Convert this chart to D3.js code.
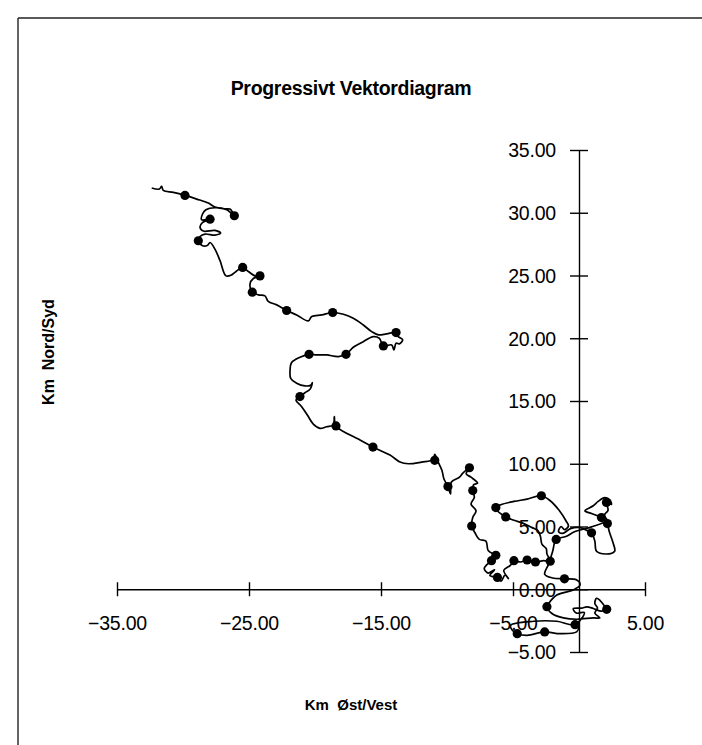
<!DOCTYPE html>
<html>
<head>
<meta charset="utf-8">
<script src="https://cdn.jsdelivr.net/npm/d3@7"></script>
<style>
  html, body { margin: 0; padding: 0; background: #fff; }
  svg { display: block; }
</style>
</head>
<body>
<svg id="chart" width="702" height="745"></svg>
<script>
// ---- data (km) ----
const titleText = "Progressivt Vektordiagram";
const xTitle = "Km  Øst/Vest";
const yTitle = "Km  Nord/Syd";
const xTicks = [-35, -25, -15, -5, 5];
const yTicks = [-5, 0, 5, 10, 15, 20, 25, 30, 35];

const pathX = [
 -32.37,-31.79,-31.62,-31.49,-30.73,-29.85,-28.96,-28.08,-27.58,-26.82,-26.44,-26.24,-26.11,-26.69,-27.58,-28.26,-28.51,-28.59,-27.95,-28.51,
 -28.71,-28.46,-27.58,-27.15,-27.58,-28.33,-28.71,-28.84,-28.51,-28.13,-27.95,-27.58,-27.20,-26.74,-26.31,-25.98,-25.48,-25.05,-24.55,-24.17,
 -24.67,-24.92,-24.75,-24.29,-23.79,-23.54,-22.90,-22.15,-21.39,-20.51,-20.25,-19.49,-18.66,-17.85,-17.10,-16.34,-15.71,-15.20,-14.57,-13.86,
 -13.69,-13.36,-13.61,-13.86,-14.02,-14.19,-14.82,-15.13,-15.58,-16.34,-17.10,-17.65,-18.23,-19.12,-19.87,-20.45,-21.14,-21.77,-21.89,-21.84,
 -21.39,-20.76,-20.30,-20.20,-20.38,-20.76,-21.14,-21.44,-21.01,-20.58,-20.13,-19.62,-19.12,-18.61,-18.54,-18.41,-16.59,-15.61,-14.32,-13.56,
 -12.93,-11.93,-11.05,-10.93,-10.63,-10.38,-10.23,-9.93,-9.73,-9.68,-9.05,-8.80,-8.30,-8.55,-8.18,-7.68,-7.98,-8.05,-7.93,-8.18,
 -7.80,-8.05,-8.13,-7.88,-7.55,-7.05,-6.88,-6.48,-6.30,-6.63,-6.98,-7.18,-6.88,-6.40,-6.75,-6.18,-5.90,-5.60,-5.35,-5.70,
 -5.20,-4.93,-4.43,-3.93,-3.30,-2.68,-2.18,-2.43,-2.48,-2.80,-2.93,-3.13,-3.55,-4.18,-4.93,-5.55,-6.18,-6.30,-5.93,-4.93,
 -3.93,-2.85,-2.18,-1.48,-0.98,-0.80,-1.10,-1.35,-1.55,-1.25,-0.60,0.08,0.58,0.95,1.20,1.33,2.08,2.70,2.58,2.28,
 2.15,1.70,0.95,0.45,1.08,1.45,1.95,2.35,2.45,2.08,2.20,1.90,2.10,0.90,-0.30,-1.00,-1.73,-2.00,-2.30,-2.60,
 -2.00,-1.10,-0.20,0.08,-0.43,-1.68,-2.30,-2.43,-2.05,-1.18,-0.18,1.08,1.58,1.20,1.40,1.20,1.33,1.60,1.90,2.10,
 1.70,1.08,0.60,0.20,-0.43,-0.20,0.40,-0.30,-1.68,-3.43,-5.18,-5.05,-4.68,-3.93,-2.60,-1.43,-0.18,0.00
];
const pathY = [
 31.97,31.89,32.10,31.78,31.62,31.38,31.09,30.77,30.45,30.32,30.29,30.03,29.76,30.24,30.40,30.24,29.92,29.44,29.49,29.23,
 28.86,28.54,28.59,28.38,28.22,28.30,28.11,27.77,27.37,27.42,27.63,27.10,26.20,24.97,25.05,25.32,25.64,25.32,24.97,24.97,
 24.76,24.34,23.67,23.46,23.38,22.93,22.66,22.21,21.86,21.38,21.73,21.86,22.05,21.91,21.60,21.06,20.53,20.27,20.35,20.45,
 20.13,19.87,19.55,19.60,19.07,19.47,19.39,20.00,20.13,19.73,19.28,18.72,18.54,18.67,18.67,18.72,18.48,18.06,17.42,16.81,
 16.41,16.20,16.28,16.46,15.93,15.66,15.35,15.08,14.55,13.88,13.16,12.82,12.95,13.09,13.75,13.01,11.89,11.33,10.69,10.14,
 10.00,10.13,10.32,10.75,10.05,9.46,8.79,8.18,7.59,8.53,8.93,9.25,9.68,9.20,8.93,8.45,8.34,7.86,7.32,6.78,
 6.25,5.71,5.04,4.50,3.97,3.83,3.08,2.81,2.71,2.28,1.96,1.64,1.29,1.55,1.10,0.94,0.65,1.15,0.85,1.50,
 1.90,2.28,2.17,2.33,2.17,2.28,2.23,2.82,3.24,3.57,4.24,4.69,4.91,5.23,5.50,5.76,6.25,6.51,6.73,7.00,
 7.18,7.45,7.05,6.25,5.44,5.04,4.75,5.00,4.60,4.45,4.85,4.91,4.69,4.50,3.83,3.03,2.81,3.03,3.70,4.64,
 5.23,5.71,6.03,6.25,6.65,7.00,7.30,7.10,6.75,6.92,6.30,5.90,5.50,4.95,4.60,4.20,3.97,3.00,2.00,1.20,
 0.90,0.83,0.75,0.35,-0.05,-0.46,-1.13,-1.39,-1.93,-2.28,-2.39,-2.28,-2.28,-1.90,-1.50,-1.13,-0.72,-0.90,-1.30,-1.60,
 -1.75,-1.53,-1.40,-1.50,-1.55,-1.90,-1.85,-2.82,-2.55,-2.55,-2.87,-3.27,-3.54,-3.67,-3.40,-3.54,-3.40,-3.00
];

const dotX = [-29.85,-26.11,-27.95,-28.84,-25.48,-24.17,-24.75,-22.15,-18.66,-13.86,-14.82,-17.65,-20.45,-21.14,-18.41,-15.61,-10.93,
  -9.93,-8.30,-8.05,-8.13,-6.30,-6.63,-6.18,-4.93,-3.93,-3.30,-2.18,-5.55,-6.30,-2.85,0.95,2.15,1.70,2.08,-1.73,-1.10,-2.43,2.10,-0.30,-4.68,-2.60];
const dotY = [31.38,29.76,29.49,27.77,25.64,24.97,23.67,22.21,22.05,20.45,19.39,18.72,18.72,15.35,13.01,11.33,10.27,
  8.18,9.68,7.86,5.04,2.71,2.28,0.94,2.28,2.33,2.17,2.23,5.76,6.51,7.45,4.50,5.23,5.71,6.92,3.97,0.83,-1.39,-1.60,-2.82,-3.54,-3.40];

// ---- drawing ----
const svg = d3.select("#chart");
const font = "'Liberation Sans', Arial, sans-serif";

// scanned frame (top and left edges)
svg.append("line").attr("x1", 18).attr("y1", 18).attr("x2", 702).attr("y2", 18)
  .attr("stroke", "#222").attr("stroke-width", 1.4);
svg.append("line").attr("x1", 18).attr("y1", 18).attr("x2", 18).attr("y2", 745)
  .attr("stroke", "#222").attr("stroke-width", 1.4);

const x = d3.scaleLinear().domain([-35, 5]).range([117, 645]);
const y = d3.scaleLinear().domain([-5, 35]).range([652, 150]);

const fmt = d3.format(".2f");

// x axis through y=0
const gx = svg.append("g").attr("transform", `translate(0,${y(0)})`)
  .call(d3.axisBottom(x).tickValues(xTicks).tickFormat(fmt).tickSizeOuter(0));
gx.select(".domain").attr("stroke", "#000").attr("stroke-width", 1.4);
gx.selectAll(".tick line").attr("y1", -7).attr("y2", 7).attr("stroke", "#000").attr("stroke-width", 1.4);
gx.selectAll(".tick text").attr("y", 41).attr("dy", 0)
  .attr("font-family", font).attr("font-size", 19.5).attr("letter-spacing", -0.2).attr("fill", "#000");

// y axis through x=0
const gy = svg.append("g").attr("transform", `translate(${x(0)},0)`)
  .call(d3.axisLeft(y).tickValues(yTicks).tickFormat(fmt).tickSizeOuter(0));
gy.select(".domain").attr("stroke", "#000").attr("stroke-width", 1.4);
gy.selectAll(".tick line").attr("x1", -9).attr("x2", 9).attr("stroke", "#000").attr("stroke-width", 1.4);
gy.selectAll(".tick text").attr("x", -23).attr("dy", "0.35em")
  .attr("font-family", font).attr("font-size", 19.5).attr("letter-spacing", -0.2).attr("fill", "#000");

// trajectory
const pts = pathX.map((v, i) => [v, pathY[i]]);
const line = d3.line().x(d => x(d[0])).y(d => y(d[1])).curve(d3.curveCatmullRom.alpha(0.5));
svg.append("path").datum(pts).attr("d", line)
  .attr("fill", "none").attr("stroke", "#000").attr("stroke-width", 1.7).attr("stroke-linejoin", "round");

// daily markers
svg.append("g").selectAll("circle").data(dotX.map((v, i) => [v, dotY[i]])).join("circle")
  .attr("cx", d => x(d[0])).attr("cy", d => y(d[1])).attr("r", 4.6).attr("fill", "#000");

// titles
svg.append("text").attr("x", 351).attr("y", 95).attr("text-anchor", "middle")
  .attr("font-family", font).attr("font-weight", "bold").attr("font-size", 19.5).attr("letter-spacing", -0.3)
  .text(titleText);
svg.append("text").attr("x", 351).attr("y", 710).attr("text-anchor", "middle")
  .attr("font-family", font).attr("font-weight", "bold").attr("font-size", 15)
  .style("white-space", "pre").text(xTitle);
svg.append("text").attr("transform", "translate(54,352) rotate(-90)").attr("text-anchor", "middle")
  .attr("font-family", font).attr("font-weight", "bold").attr("font-size", 16)
  .style("white-space", "pre").text(yTitle);
</script>
</body>
</html>
